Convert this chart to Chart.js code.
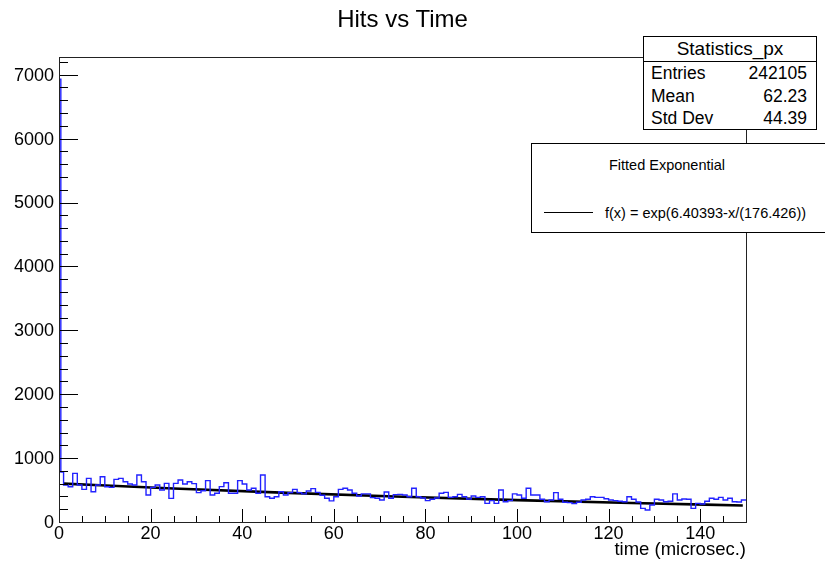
<!DOCTYPE html>
<html><head><meta charset="utf-8">
<script src="https://cdn.jsdelivr.net/npm/chart.js@4.4.1/dist/chart.umd.min.js"></script>
<style>
html,body{margin:0;padding:0;overflow:hidden;background:#fff;}
#wrap{position:relative;width:825px;height:562px;overflow:hidden;font-family:'Liberation Sans',Arial,Helvetica,sans-serif;color:#000;}
canvas{position:absolute;left:0;top:0;}
.abs{position:absolute;white-space:nowrap;}
</style></head><body>
<div id="wrap">
<canvas id="c" width="825" height="562"></canvas>
<div class="abs" id="title" style="left:0;width:805px;top:5px;text-align:center;font-size:24px;line-height:28px;">Hits vs Time</div>
<div class="abs" id="stats" style="left:643px;top:36px;width:172px;height:92px;border:1px solid #000;background:#fff;">
  <div class="abs" style="left:0;top:0;width:172px;height:24px;line-height:24px;text-align:center;font-size:19px;border-bottom:1px solid #000;">Statistics_px</div>
  <div class="abs" style="left:7px;top:25px;line-height:22px;font-size:17.5px;">Entries</div>
  <div class="abs" style="right:9px;top:25px;line-height:22px;font-size:17.5px;">242105</div>
  <div class="abs" style="left:7px;top:48px;line-height:22px;font-size:17.5px;">Mean</div>
  <div class="abs" style="right:9px;top:48px;line-height:22px;font-size:17.5px;">62.23</div>
  <div class="abs" style="left:7px;top:70px;line-height:22px;font-size:17.5px;">Std Dev</div>
  <div class="abs" style="right:9px;top:70px;line-height:22px;font-size:17.5px;">44.39</div>
</div>
<div class="abs" id="fitbox" style="left:531px;top:143px;width:320px;height:88px;border:1px solid #000;background:#fff;">
  <div class="abs" style="left:0;width:270px;top:11px;line-height:20px;text-align:center;font-size:14.5px;">Fitted Exponential</div>
  <div class="abs" style="left:12px;top:68px;width:49px;height:1px;background:#000;"></div>
  <div class="abs" style="left:73px;top:59px;line-height:20px;font-size:14.5px;">f(x) = exp(6.40393-x/(176.426))</div>
</div>
</div>
<script>
// ---- data ----
const spikeEdges = [0, 0.4];          // first (narrow) bin edges
const spikeCount = 6930;
const counts = [
 780,578,552,761,578,510,683,474,578,709,
 552,542,667,683,630,594,578,735,630,422,
 542,578,500,604,370,604,657,594,630,600,
 460,490,647,423,449,553,615,449,449,647,
 595,501,527,449,735,396,371,396,474,423,
 459,511,459,440,485,522,464,418,371,330,
 396,511,527,501,449,407,440,440,381,371,
 344,469,371,428,433,423,396,527,396,376,
 334,355,376,449,464,386,396,433,396,360,
 407,386,396,292,334,292,500,318,334,440,
 423,371,527,423,423,355,318,344,459,355,
 308,303,287,308,344,355,396,386,386,365,
 344,334,324,318,396,355,313,214,188,266,
 355,344,318,324,440,344,360,355,214,292,
 282,324,371,355,386,344,371,318,313,344
];
const fitX = [1, 25, 50, 75, 100, 125, 149.3];
const fitY = [600.8, 524.4, 455.1, 395.0, 342.8, 297.5, 259.2];
const xRange = [0, 150];
const yRange = [0, 7277];
const xTickLabels = [0, 20, 40, 60, 80, 100, 120, 140];
const yTickLabels = [0, 1000, 2000, 3000, 4000, 5000, 6000, 7000];
const xMajorStep = 20, xMinorStep = 5;
const yMajorStep = 1000, yMinorStep = 200;

// ---- build histogram outline points (value holds from its edge to the next edge) ----
const edges = spikeEdges.slice();
for (let i = 1; i < counts.length; i++) edges.push(i);
const allCounts = [spikeCount].concat(counts);
const histPts = [];
for (let i = 0; i < allCounts.length; i++) histPts.push({x: edges[i], y: allCounts[i]});
histPts.push({x: xRange[1], y: allCounts[allCounts.length - 1]});
const fitPts = fitX.map((x, i) => ({x: x, y: fitY[i]}));

const FONT = "'Liberation Sans', Arial, Helvetica, sans-serif";

const framePlugin = {
  id: 'frame',
  afterDatasetsDraw(chart) {
    const ctx = chart.ctx, a = chart.chartArea;
    const xs = chart.scales.x, ys = chart.scales.y;
    ctx.save();
    ctx.strokeStyle = '#000';
    ctx.lineWidth = 1;
    ctx.beginPath();
    for (let v = yRange[0]; v <= yRange[1]; v += yMinorStep) {
      const p = Math.round(ys.getPixelForValue(v)) + 0.5;
      const len = (v % yMajorStep === 0) ? 19 : 9;
      ctx.moveTo(a.left, p); ctx.lineTo(a.left + len, p);
    }
    for (let v = xRange[0]; v <= xRange[1]; v += xMinorStep) {
      const p = Math.round(xs.getPixelForValue(v)) + 0.5;
      const len = (v % xMajorStep === 0) ? 13 : 6;
      ctx.moveTo(p, a.bottom); ctx.lineTo(p, a.bottom - len);
    }
    ctx.stroke();
    ctx.strokeStyle = '#222';
    ctx.strokeRect(Math.round(a.left) + 0.5, Math.round(a.top) + 0.5,
                   Math.round(a.right - a.left), Math.round(a.bottom - a.top));
    // tick labels and axis title
    ctx.fillStyle = '#000';
    ctx.font = '18px ' + FONT;
    ctx.textAlign = 'right'; ctx.textBaseline = 'middle';
    yTickLabels.forEach(v => ctx.fillText(String(v), a.left - 5, ys.getPixelForValue(v) + 1));
    ctx.textAlign = 'center'; ctx.textBaseline = 'top';
    xTickLabels.forEach(v => ctx.fillText(String(v), xs.getPixelForValue(v), a.bottom + 3));
    ctx.textAlign = 'right'; ctx.textBaseline = 'middle';
    ctx.font = '18.5px ' + FONT;
    ctx.fillText('time (microsec.)', a.right, a.bottom + 28);
    ctx.restore();
  }
};

new Chart(document.getElementById('c').getContext('2d'), {
  type: 'line',
  data: {
    datasets: [
      {data: histPts, borderColor: '#2222ff', borderWidth: 1.4, stepped: 'before',
       pointRadius: 0, fill: false, tension: 0},
      {data: fitPts, borderColor: '#000', borderWidth: 2.6, pointRadius: 0,
       fill: false, cubicInterpolationMode: 'monotone'}
    ]
  },
  options: {
    responsive: false, animation: false, devicePixelRatio: 1,
    layout: {padding: {left: 59, right: 79, top: 57, bottom: 40}},
    plugins: {legend: {display: false}, tooltip: {enabled: false}, title: {display: false}},
    scales: {
      x: {type: 'linear', min: xRange[0], max: xRange[1], display: false},
      y: {type: 'linear', min: yRange[0], max: yRange[1], display: false}
    }
  },
  plugins: [framePlugin]
});
</script>
</body></html>
